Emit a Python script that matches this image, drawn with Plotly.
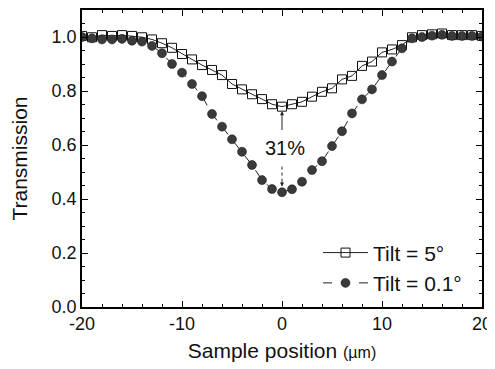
import plotly.graph_objects as go

x_pos = list(range(-20, 21))

tilt5 = [1.004, 0.999, 1.007, 1.004, 1.007, 1.004, 0.999, 0.991, 0.977, 0.960,
         0.937, 0.917, 0.896, 0.878, 0.859, 0.826, 0.806, 0.788, 0.770, 0.751,
         0.742,
         0.751, 0.760, 0.779, 0.797, 0.810, 0.843, 0.856, 0.893, 0.909, 0.943,
         0.954, 0.970, 0.999, 1.007, 1.010, 1.013, 1.007, 1.007, 1.007, 1.004]

tilt01 = [1.000, 0.995, 0.991, 0.991, 0.993, 0.986, 0.983, 0.967, 0.940, 0.900,
          0.868, 0.826, 0.781, 0.715, 0.668, 0.621, 0.575, 0.526, 0.470, 0.437,
          0.425,
          0.436, 0.464, 0.507, 0.540, 0.596, 0.651, 0.717, 0.769, 0.806, 0.859,
          0.909, 0.958, 0.995, 1.000, 1.005, 1.008, 1.004, 1.004, 1.004, 1.002]

font_family = "Liberation Sans, Arial, sans-serif"

fig = go.Figure()
fig.add_trace(go.Scatter(
    x=x_pos, y=tilt5, mode="lines+markers", name="Tilt = 5°",
    line=dict(color="#222222", width=1),
    marker=dict(symbol="square-open", size=9, color="#111111", line=dict(width=1))))
fig.add_trace(go.Scatter(
    x=x_pos, y=tilt01, mode="lines+markers", name="Tilt = 0.1°",
    line=dict(color="#222222", width=1, dash="dash"),
    marker=dict(symbol="circle", size=9, color="#3a3a3a", line=dict(width=0.5, color="#111111"))))

# 31% annotation arrows
fig.add_annotation(x=0, y=0.725, ax=0, ay=0.65, xref="x", yref="y", axref="x", ayref="y",
                   text="", showarrow=True, arrowhead=2, arrowsize=0.8, arrowwidth=1, arrowcolor="#222")
fig.add_shape(type="line", x0=0, x1=0, y0=0.52, y1=0.46, xref="x", yref="y",
              line=dict(color="#222", width=1, dash="dot"))
fig.add_annotation(x=0, y=0.446, ax=0, ay=0.47, xref="x", yref="y", axref="x", ayref="y",
                   text="", showarrow=True, arrowhead=2, arrowsize=0.8, arrowwidth=1, arrowcolor="#222")
fig.add_annotation(x=0.3, y=0.59, xref="x", yref="y", text="31%", showarrow=False,
                   font=dict(size=20, color="#111", family=font_family))

axis_common = dict(showline=True, linecolor="black", linewidth=1.5, mirror="allticks",
                   ticks="inside", ticklen=6, tickwidth=1.2, tickcolor="black",
                   showgrid=False, zeroline=False, automargin=False,
                   tickfont=dict(size=18, color="#111", family=font_family))

fig.update_xaxes(range=[-20, 20], tickmode="array", tickvals=[-20, -10, 0, 10, 20],
                 ticktext=["-20", "-10", "0", "10", "20"],
                 minor=dict(dtick=2, ticks="inside", ticklen=3, tickcolor="black", tickwidth=1),
                 title=dict(text="Sample position <span style='font-size:16px'>(µm)</span>",
                            font=dict(size=21, color="#111", family=font_family), standoff=10),
                 **axis_common)
fig.update_yaxes(range=[0, 1.1], tickmode="array", tickvals=[0, 0.2, 0.4, 0.6, 0.8, 1.0],
                 ticktext=["0.0", "0.2", "0.4", "0.6", "0.8", "1.0"],
                 minor=dict(dtick=0.05, ticks="inside", ticklen=3, tickcolor="black", tickwidth=1),
                 title=dict(text="Transmission", font=dict(size=21, color="#111", family=font_family),
                            standoff=18),
                 **axis_common)

fig.update_layout(
    width=487, height=361,
    margin=dict(l=74, r=13, t=2, b=62),
    plot_bgcolor="white", paper_bgcolor="white",
    font=dict(family=font_family, color="#111"),
    legend=dict(x=0.59, y=0.012, xanchor="left", yanchor="bottom",
                bgcolor="rgba(0,0,0,0)", font=dict(size=21, family=font_family),
                itemwidth=45),
)

fig.write_html("out.html")
